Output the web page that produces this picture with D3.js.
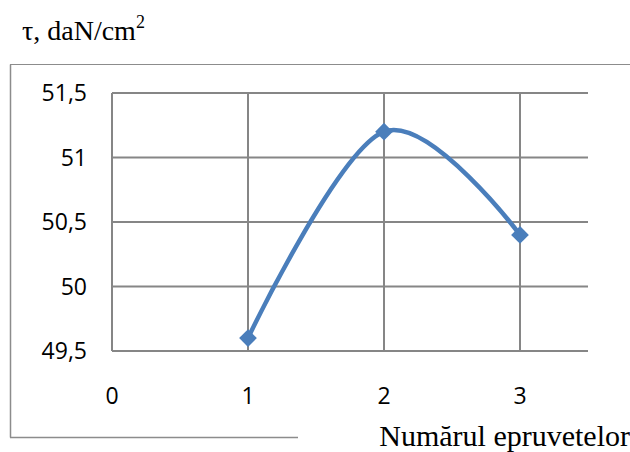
<!DOCTYPE html>
<html>
<head>
<meta charset="utf-8">
<script src="https://cdn.jsdelivr.net/npm/d3@7"></script>
<style>
html,body{margin:0;padding:0;background:#fff;}
svg{display:block;}
</style>
</head>
<body>
<svg id="chart" width="630" height="452"></svg>
<script>
const xValues = [1, 2, 3];
const yValues = [49.6, 51.2, 50.4];
const xTicks = [0, 1, 2, 3];
const yTicks = [49.5, 50, 50.5, 51, 51.5];
const yTickLabels = ["49,5", "50", "50,5", "51", "51,5"];
const yTitle = "τ, daN/cm";
const xTitle = "Numărul epruvetelor";

const svg = d3.select("#chart");
const x = d3.scaleLinear().domain([0, 3.5]).range([112, 588]);
const y = d3.scaleLinear().domain([49.5, 51.5]).range([351, 93]);
const grid = "#868686";

// outer frame
svg.append("line").attr("x1",10.5).attr("x2",10.5).attr("y1",64.5).attr("y2",437.5).attr("stroke","#8c8c8c").attr("stroke-width",1.5);
svg.append("line").attr("x1",10).attr("x2",630).attr("y1",64.5).attr("y2",64.5).attr("stroke","#8c8c8c").attr("stroke-width",1.2);
svg.append("line").attr("x1",10).attr("x2",298).attr("y1",437.5).attr("y2",437.5).attr("stroke","#8c8c8c").attr("stroke-width",1.5);

// gridlines
const gy = svg.append("g");
gy.selectAll("line").data(yTicks).join("line")
  .attr("x1", x(0)).attr("x2", x(3.5))
  .attr("y1", d => y(d)).attr("y2", d => y(d))
  .attr("stroke", grid).attr("stroke-width", 2);
const gx = svg.append("g");
gx.selectAll("line").data(xTicks).join("line")
  .attr("x1", d => x(d)).attr("x2", d => x(d))
  .attr("y1", y(51.5)).attr("y2", y(49.5))
  .attr("stroke", grid).attr("stroke-width", 2);

// tick labels
const tickFont = "'Open Sans', 'Noto Sans', sans-serif";
svg.append("g").selectAll("text").data(yTicks).join("text")
  .attr("x", 87).attr("y", d => y(d)).attr("dy", "0.35em")
  .attr("text-anchor", "end")
  .attr("font-family", tickFont).attr("font-size", 23).attr("fill", "#000")
  .text((d, i) => yTickLabels[i]);
svg.append("g").selectAll("text").data(xTicks).join("text")
  .attr("x", d => x(d)).attr("y", 404)
  .attr("text-anchor", "middle")
  .attr("font-family", tickFont).attr("font-size", 23).attr("fill", "#000")
  .text(d => d);

// series
const pts = xValues.map((v, i) => [v, yValues[i]]);
const line = d3.line().x(d => x(d[0])).y(d => y(d[1])).curve(d3.curveCardinal.tension(0));
svg.append("path").datum(pts).attr("d", line)
  .attr("fill", "none").attr("stroke", "#4A7EBB").attr("stroke-width", 4.5).attr("stroke-linecap","round");
svg.append("g").selectAll("path").data(pts).join("path")
  .attr("transform", d => `translate(${x(d[0])},${y(d[1])})`)
  .attr("d", d3.symbol(d3.symbolDiamond2, 200)())
  .attr("fill", "#4A7EBB");

// titles
const serif = "'Liberation Serif', 'Times New Roman', serif";
const t = svg.append("text").attr("x", 22).attr("y", 40)
  .attr("font-family", serif).attr("font-size", 28).attr("fill", "#000");
t.append("tspan").text(yTitle);
t.append("tspan").attr("dy", -12).attr("font-size", 18).text("2");
svg.append("text").attr("x", 630).attr("y", 446).attr("text-anchor", "end")
  .attr("font-family", serif).attr("font-size", 30).attr("fill", "#000")
  .text(xTitle);
</script>
</body>
</html>
